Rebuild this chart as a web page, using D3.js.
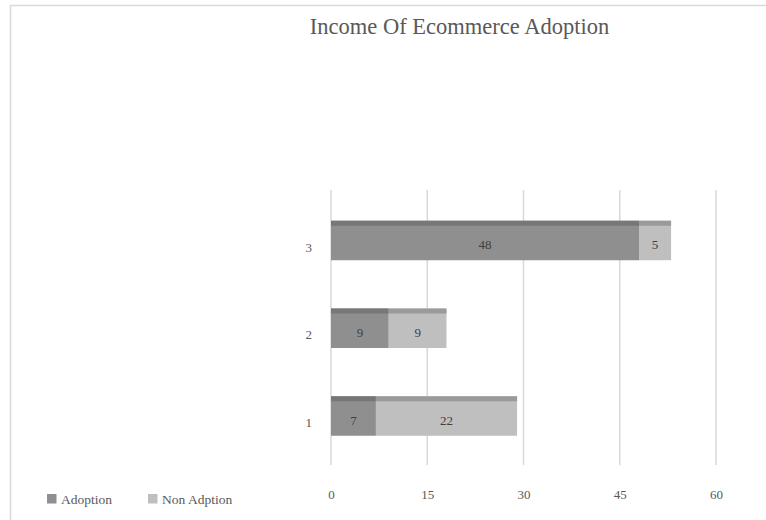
<!DOCTYPE html>
<html><head><meta charset="utf-8">
<script src="https://cdn.jsdelivr.net/npm/d3@7"></script>
<style>body{margin:0;background:#fff}svg{display:block}svg text{font-family:"Liberation Serif","Times New Roman",serif !important}</style>
</head><body><svg id="c" width="766" height="520"></svg>
<script>
const categories = ["1", "2", "3"];
const seriesNames = ["Adoption", "Non Adption"];
const adoption = [7, 9, 48];
const nonAdoption = [22, 9, 5];
const xTicks = [0, 15, 30, 45, 60];
const title = "Income Of Ecommerce Adoption";

const fills = ["#8f8f8f", "#bfbfbf"];
const strips = ["#777777", "#9a9a9a"];

const svg = d3.select("#c");
svg.append("rect").attr("x", 10.5).attr("y", 5.5).attr("width", 800).attr("height", 600)
  .attr("fill", "#fff").attr("stroke", "#d9d9d9").attr("stroke-width", 1.5);

svg.append("text").attr("x", 459.5).attr("y", 34).attr("text-anchor", "middle")
  .attr("font-size", 22.5).attr("fill", "#595959").text(title);

const x = d3.scaleLinear().domain([0, 60]).range([331, 716]);
const y = d3.scaleBand().domain(categories.slice().reverse()).range([196.6, 459.9])
  .paddingInner(0.55).paddingOuter(0.275);

// gridlines
svg.append("g").selectAll("line").data(xTicks).join("line")
  .attr("x1", d => x(d)).attr("x2", d => x(d)).attr("y1", 190).attr("y2", 465)
  .attr("stroke", "#d9d9d9").attr("stroke-width", 1.5);

// axis labels
const xAxis = d3.axisBottom(x).tickValues(xTicks).tickSize(0).tickPadding(0);
const gx = svg.append("g").attr("transform", "translate(0,490)").call(xAxis);
gx.select(".domain").remove();
gx.selectAll("text").attr("font-size", 13).attr("fill", "#595959");

const yAxis = d3.axisLeft(y).tickSize(0).tickPadding(0);
const gy = svg.append("g").attr("transform", "translate(312,7)").call(yAxis);
gy.select(".domain").remove();
gy.selectAll("text").attr("font-size", 13).attr("fill", "#595959");

// stacked bars
const rows = categories.map((c, i) => ({cat: c, Adoption: adoption[i], "Non Adption": nonAdoption[i]}));
const stack = d3.stack().keys(seriesNames)(rows);
const stripH = 5;
stack.forEach((layer, si) => {
  const g = svg.append("g");
  g.selectAll("rect.bar").data(layer).join("rect").attr("class", "bar")
    .attr("x", d => x(d[0])).attr("width", d => x(d[1]) - x(d[0]))
    .attr("y", d => y(d.data.cat)).attr("height", y.bandwidth()).attr("fill", fills[si]);
  g.selectAll("rect.strip").data(layer).join("rect").attr("class", "strip")
    .attr("x", d => x(d[0])).attr("width", d => x(d[1]) - x(d[0]))
    .attr("y", d => y(d.data.cat)).attr("height", stripH).attr("fill", strips[si]);
  g.selectAll("text").data(layer).join("text")
    .attr("x", d => (x(d[0]) + x(d[1])) / 2)
    .attr("y", d => y(d.data.cat) + stripH + (y.bandwidth() - stripH) / 2 + 1.5)
    .attr("dy", "0.35em").attr("text-anchor", "middle").attr("font-size", 13)
    .attr("fill", "#404040").text(d => d[1] - d[0]);
});

// legend
const legX = [47, 148];
seriesNames.forEach((n, i) => {
  svg.append("rect").attr("x", legX[i]).attr("y", 494).attr("width", 9.5).attr("height", 9.5).attr("fill", fills[i]);
  svg.append("text").attr("x", legX[i] + 14).attr("y", 503.5).attr("font-size", 13.5)
    .attr("fill", "#595959").text(n);
});
</script></body></html>
